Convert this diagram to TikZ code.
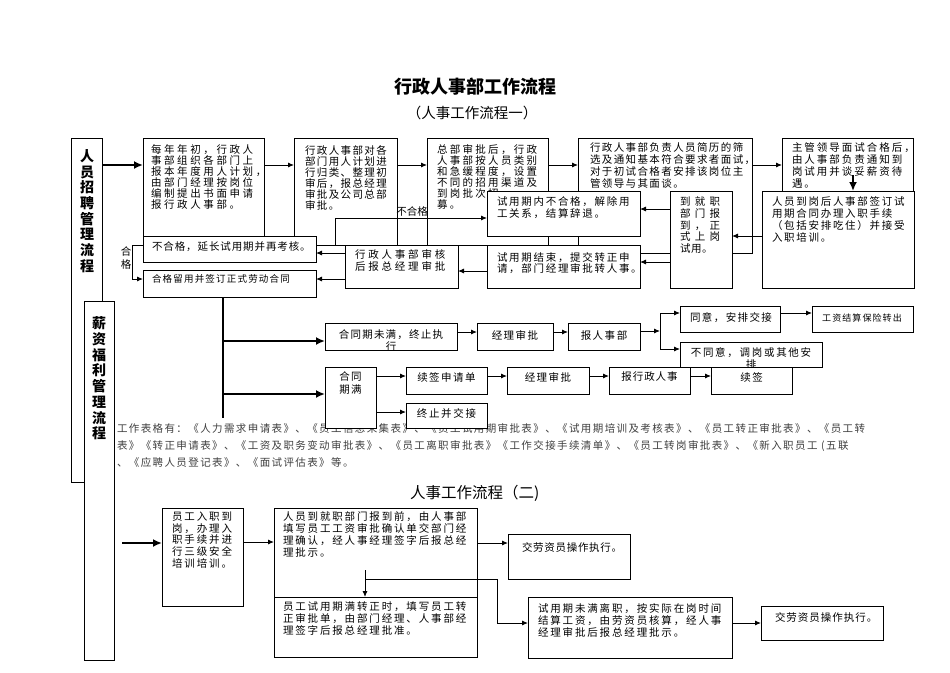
\documentclass[tikz,border=0pt]{standalone}
\usepackage{fontspec}
\setmainfont{Noto Sans CJK SC}
\usetikzlibrary{arrows.meta,calc}
\newcommand\tf[3]{\fontsize{#1}{#2}\selectfont\addfontfeature{LetterSpace=#3}}
\newcommand\bx[5]{\node[box,minimum width={#4pt-#2pt},minimum height={#5pt-#3pt}] (#1) at ({(#2+#4)/2},{(#3+#5)/2}) {};}
\begin{document}
\begin{tikzpicture}[x=1pt,y=-1pt,
  box/.style={draw=black,line width=0.9pt,fill=white,inner sep=0pt,outer sep=0pt},
  txt/.style={inner sep=0pt,outer sep=0pt,anchor=north west,align=left},
  ctxt/.style={inner sep=0pt,outer sep=0pt,align=center},
  arr/.style={draw=black,line width=0.9pt,-{Latex[length=6pt,width=5pt]}},
  tarr/.style={draw=black,line width=2.4pt,-{Latex[length=9pt,width=8pt]}},
  tln/.style={draw=black,line width=2.4pt},
]
\fill[white] (0,0) rectangle (950,672);
\useasboundingbox (0,0) rectangle (950,672);
\foreach \v in {165,175,209,218,236,245,253,262,271,279,313,331,332,341,349,376,394,412,418,542,543,570,579,623}
  {\coordinate (y\v) at (0,\v);}
\foreach \u in {122,132,223,335,365,497,660,853}
  {\coordinate (x\u) at (\u,0);}

% titles
\node[ctxt,font=\fontsize{18}{20}\selectfont\bfseries] (T1) at (475,87) {行政人事部工作流程};
\node[ctxt,font=\fontsize{14.5}{16}\selectfont] (T2) at (472,113) {（人事工作流程一）};
\node[inner sep=0pt,anchor=west,font=\fontsize{15.5}{17}\selectfont] (T3) at (410,493) {人事工作流程（二)};

% form list text (behind boxes)
\node[txt,font=\tf{10.5}{17}{13.3},text=black!75] (FL) at (117,423.1)
 {工作表格有：《人力需求申请表》、《员工信息采集表》、《员工试用期审批表》、《试用期培训及考核表》、《员工转正审批表》、《员工转\\
  表》《转正申请表》、《工资及职务变动审批表》、《员工离职审批表》《工作交接手续清单》、《员工转岗审批表》、《新入职员工 (五联\\
  、《应聘人员登记表》、《面试评估表》等。};

% left vertical labels
\bx{V1}{71}{138}{102}{482}
\bx{V2}{84}{301}{114}{660}
\node[ctxt,font=\fontsize{14}{15.7}\selectfont\bfseries] (V1t) at (87,211) {人\\员\\招\\聘\\管\\理\\流\\程};
\node[ctxt,font=\fontsize{14}{15.7}\selectfont\bfseries] (V2t) at (99,378.5) {薪\\资\\福\\利\\管\\理\\流\\程};

% top row
\bx{B1}{143}{138}{264}{240}
\node[txt,font=\tf{10.5}{11}{24.8}] (B1t) at (151,145.1) {每年年初，行政人\\事部组织各部门上\\报本年度用人计划，\\由部门经理按岗位\\编制提出书面申请\\报行政人事部。};
\bx{B2}{294}{138}{397}{245}
\node[txt,font=\tf{10.5}{11}{13.3}] (B2t) at (305,145.1) {行政人事部对各\\部门用人计划进\\行归类、整理初\\审后，报总经理\\审批及公司总部\\审批。};
\bx{B3}{427}{138}{548}{245}
\node[txt,font=\tf{10.5}{11}{21.9}] (B3t) at (437,145.1) {总部审批后，行政\\人事部按人员类别\\和急缓程度，设置\\不同的招用渠道及\\到岗批次招\\募。};
\bx{B4}{578}{138}{752}{253}
\node[txt,font=\tf{10.5}{11.7}{13.3}] (B4t) at (590,143.1) {行政人事部负责人员简历的筛\\选及通知基本符合要求者面试，\\对于初试合格者安排该岗位主\\管领导与其面谈。};
\bx{B5}{782}{138}{913}{200}
\node[txt,font=\tf{10.5}{11.7}{19}] (B5t) at (792,143.1) {主管领导面试合格后，\\由人事部负责通知到\\岗试用并谈妥薪资待\\遇。};
\bx{B6}{762}{191}{914}{288}
\node[txt,font=\tf{10.5}{11.7}{16.2}] (B6t) at (772,197.1) {人员到岗后人事部签订试\\用期合同办理入职手续\\（包括安排吃住）并接受\\入职培训。};
\bx{B7}{670}{191}{732}{288}
\node[txt,font=\tf{10.5}{11.6}{41}] (B7t) at (680,197.1) {到就职\\部门报\\到，正\\式上岗\\{\addfontfeature{LetterSpace=5}试用。}};
\bx{B8}{487}{191}{640}{236}
\node[txt,font=\tf{10.5}{11.3}{16.2}] (B8t) at (497,197.1) {试用期内不合格，解除用\\工关系，结算辞退。};
\bx{B9}{487}{245}{640}{288}
\node[txt,font=\tf{10.5}{11}{16.2}] (B9t) at (497,252.1) {试用期结束，提交转正申\\请，部门经理审批转人事。};
\bx{B10}{345}{245}{458}{288}
\node[txt,font=\tf{10.5}{12}{26.7}] (B10t) at (355,250.1) {行政人事部审核\\后报总经理审批};
\bx{B11}{143}{236}{316}{262}
\node[txt,font=\tf{10.5}{11}{8.6}] (B11t) at (152,242.1) {不合格，延长试用期并再考核。};
\bx{B12}{143}{270}{316}{297}
\node[txt,font=\tf{9.5}{11}{12.6}] (B12t) at (152,274.5) {合格留用并签订正式劳动合同};
\node[ctxt,font=\tf{10.5}{13}{0}] (G) at (126,258) {合\\格};
\node[ctxt,font=\tf{10.5}{12}{0}] (NG) at (412,211) {不合格};

% contract section
\bx{C1}{325}{323}{457}{350}
\begin{scope}
\clip (C1.south west) rectangle (C1.north east);
\node[ctxt,anchor=north,font=\tf{10.5}{12}{11.4}] (C1t) at (391,330.1) {合同期未满，终止执\\行};
\end{scope}
\bx{C2}{477}{323}{553}{350}
\node[ctxt,font=\tf{10.5}{12}{14.3}] (C2t) at (515,335) {经理审批};
\bx{C3}{568}{323}{640}{350}
\node[ctxt,font=\tf{10.5}{12}{14.3}] (C3t) at (604,335) {报人事部};
\bx{D1}{680}{306}{780}{332}
\node[ctxt,font=\tf{10.5}{12}{13.3}] (D1t) at (731,318) {同意，安排交接};
\bx{D3}{812}{306}{913}{332}
\node[ctxt,font=\tf{9}{11}{12}] (D3t) at (862,318) {工资结算保险转出};
\bx{D2}{680}{342}{822}{367}
\begin{scope}
\clip (D2.south west) rectangle (D2.north east);
\node[ctxt,anchor=north,font=\tf{10.5}{12}{16.2}] (D2t) at (751,347.1) {不同意，调岗或其他安\\排};
\end{scope}
\bx{E1}{325}{367}{376}{428}
\node[ctxt,anchor=north,font=\tf{10.5}{13}{14.3}] (E1t) at (350.5,372.1) {合同\\期满};
\bx{E2}{406}{367}{487}{394}
\node[ctxt,font=\tf{10.5}{12}{14.3}] (E2t) at (446.5,377) {续签申请单};
\bx{E3}{507}{367}{589}{394}
\node[ctxt,font=\tf{10.5}{12}{14.3}] (E3t) at (548,377) {经理审批};
\bx{E4}{609}{367}{690}{394}
\node[ctxt,font=\tf{10.5}{12}{8.6}] (E4t) at (649.5,377) {报行政人事};
\bx{E5}{711}{367}{792}{394}
\node[ctxt,font=\tf{10.5}{12}{14.3}] (E5t) at (751.5,377) {续签};
\bx{E6}{406}{403}{487}{428}
\node[ctxt,font=\tf{10.5}{12}{16}] (E6t) at (446.5,413) {终止并交接};

% section 2
\bx{F1}{162}{508}{243}{606}
\node[txt,font=\tf{10.5}{11.6}{18}] (F1t) at (172,512.1) {员工入职到\\岗，办理入\\职手续并进\\行三级安全\\培训培训。};
\bx{F2}{274}{508}{477}{597}
\node[txt,font=\tf{10.5}{11.7}{17.6}] (F2t) at (283,512.1) {人员到就职部门报到前，由人事部\\填写员工工资审批确认单交部门经\\理确认，经人事经理签字后报总经\\理批示。};
\bx{F3}{274}{597}{477}{657}
\node[txt,font=\tf{10.5}{12}{17.6}] (F3t) at (283,602.1) {员工试用期满转正时，填写员工转\\正审批单，由部门经理、人事部经\\理签字后报总经理批准。};
\bx{F4}{508}{534}{630}{579}
\node[txt,font=\tf{10.5}{12}{6.7}] (F4t) at (522,542.1) {交劳资员操作执行。};
\bx{F5}{528}{597}{732}{658}
\node[txt,font=\tf{10.5}{12}{17.6}] (F5t) at (538,603.1) {试用期未满离职，按实际在岗时间\\结算工资，由劳资员核算，经人事\\经理审批后报总经理批示。};
\bx{F6}{761}{606}{883}{640}
\node[txt,font=\tf{10.5}{12}{9.5}] (F6t) at (775,612.1) {交劳资员操作执行。};

% connectors, top
\draw[tarr] (V1.east|-y165) -- (B1.west|-y165);
\draw[arr] (B1.east|-y165) -- (B2.west|-y165);
\draw[arr] (B2.east|-y165) -- (B3.west|-y165);
\draw[arr] (B3.east|-y165) -- (B4.west|-y165);
\draw[arr] (B4.east|-y165) -- (B5.west|-y165);
\draw[tarr] (x853|-y175) -- (x853|-B6.north);
\draw[arr] (B6.west|-y236) -- (B7.east|-y236);
\draw[arr] (B7.west|-y209) -- (B8.east|-y209);
\draw[arr] (B7.west|-y262) -- (B9.east|-y262);
\draw[arr] (B9.west|-y271) -- (B10.east|-y271);
\draw[arr] (B10.west|-y253) -- (B11.east|-y253);
\draw[arr] (B10.west|-y279) -- (B12.east|-y279);
\draw[arr] (B11.east|-y245) -- (x335|-y245) -- (x335|-y218) -- (B8.west|-y218);
\draw[arr] (B11.west|-y245) -- (x132|-y245) -- (x132|-y279) -- (B12.west|-y279);
% contract
\draw[tln] (x223|-B12.south) -- (x223|-y418);
\draw[tarr] (x223|-y341) -- (C1.west|-y341);
\draw[tarr] (x223|-y394) -- (E1.west|-y394);
\draw[arr] (C1.east|-y332) -- (C2.west|-y332);
\draw[arr] (C2.east|-y332) -- (C3.west|-y332);
\draw[arr] (C3.east|-y331) -- (x660|-y331);
\draw[arr] (x660|-y331) |- (D1.west|-y313);
\draw[arr] (x660|-y331) |- (D2.west|-y349);
\draw[arr] (D1.east|-y313) -- (D3.west|-y313);
\draw[arr] (E1.east|-y376) -- (E2.west|-y376);
\draw[arr] (E2.east|-y376) -- (E3.west|-y376);
\draw[arr] (E3.east|-y376) -- (E4.west|-y376);
\draw[arr] (E4.east|-y376) -- (E5.west|-y376);
\draw[arr] (E1.east|-y412) -- (E6.west|-y412);
% section 2
\draw[tarr] (x122|-y543) -- (F1.west|-y543);
\draw[arr] (F1.east|-y542) -- (F2.west|-y542);
\draw[arr] (F2.east|-y543) -- (F4.west|-y543);
\draw[arr] (x365|-y570) -- (x365|-F3.north);
\draw[arr] (x365|-y579) -- (x497|-y579) -- (x497|-y623) -- (F5.west|-y623);
\draw[arr] (F5.east|-y623) -- (F6.west|-y623);
\end{tikzpicture}
\end{document}
